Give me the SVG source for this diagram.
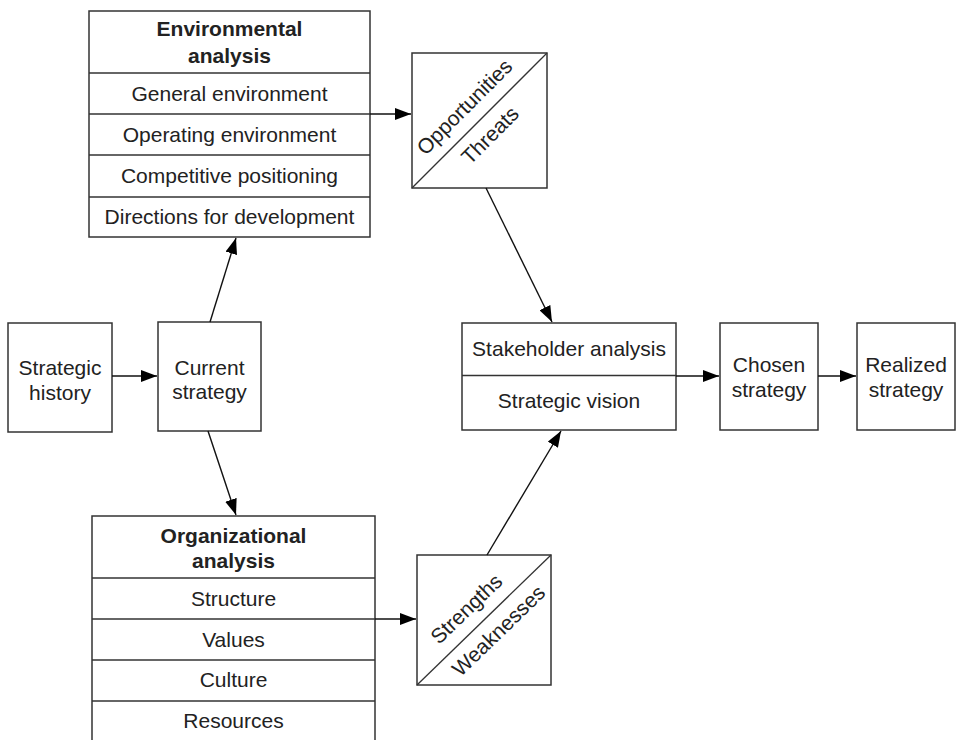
<svg xmlns="http://www.w3.org/2000/svg" width="957" height="740" viewBox="0 0 957 740">
<style>
.box{fill:#fff;stroke:#333;stroke-width:1.5}
.div{stroke:#333;stroke-width:1.5;fill:none}
.t{font-family:"Liberation Sans",Arial,Helvetica,sans-serif;font-size:21px;fill:#222;text-anchor:middle}
.b{font-weight:bold}
.c{stroke:#111;stroke-width:1.4;fill:none;marker-end:url(#ah)}
</style>
<defs>
<marker id="ah" markerUnits="userSpaceOnUse" markerWidth="17" markerHeight="12" refX="16" refY="6" orient="auto">
<path d="M0,0 L16,6 L0,12 z" fill="#000"/>
</marker>
</defs>
<rect width="957" height="740" fill="#fff"/>

<g id="environmental">
<rect class="box" x="89" y="11" width="281" height="226"/>
<line class="div" x1="89" y1="73" x2="370" y2="73"/>
<line class="div" x1="89" y1="114" x2="370" y2="114"/>
<line class="div" x1="89" y1="155" x2="370" y2="155"/>
<line class="div" x1="89" y1="197" x2="370" y2="197"/>
<text class="t b" x="229.5" y="36">Environmental</text>
<text class="t b" x="229.5" y="63">analysis</text>
<text class="t" x="229.5" y="101">General environment</text>
<text class="t" x="229.5" y="142">Operating environment</text>
<text class="t" x="229.5" y="183">Competitive positioning</text>
<text class="t" x="229.5" y="224">Directions for development</text>
</g>

<g id="opportunities-threats">
<rect class="box" x="412" y="53" width="135" height="135"/>
<line class="div" x1="412" y1="188" x2="547" y2="53" style="stroke-width:1.3"/>
<g transform="translate(479.5,120.5) rotate(-45)">
<text class="t" x="-1" y="-13">Opportunities</text>
<text class="t" x="-3" y="25">Threats</text>
</g>
</g>

<g id="strategic-history">
<rect class="box" x="8" y="323" width="104" height="109"/>
<text class="t" x="60" y="375">Strategic</text>
<text class="t" x="60" y="400">history</text>
</g>

<g id="current-strategy">
<rect class="box" x="158" y="322" width="103" height="109"/>
<text class="t" x="209.5" y="375">Current</text>
<text class="t" x="209.5" y="399">strategy</text>
</g>

<g id="stakeholder">
<rect class="box" x="462" y="323" width="214" height="107"/>
<line class="div" x1="462" y1="375.5" x2="676" y2="375.5"/>
<text class="t" x="569" y="356">Stakeholder analysis</text>
<text class="t" x="569" y="408">Strategic vision</text>
</g>

<g id="chosen-strategy">
<rect class="box" x="720" y="323" width="98" height="107"/>
<text class="t" x="769" y="372">Chosen</text>
<text class="t" x="769" y="397">strategy</text>
</g>

<g id="realized-strategy">
<rect class="box" x="857" y="323" width="98" height="107"/>
<text class="t" x="906" y="372">Realized</text>
<text class="t" x="906" y="397">strategy</text>
</g>

<g id="organizational">
<path class="div" d="M92,745 V516 H375 V745"/>
<line class="div" x1="92" y1="578" x2="375" y2="578"/>
<line class="div" x1="92" y1="619" x2="375" y2="619"/>
<line class="div" x1="92" y1="660" x2="375" y2="660"/>
<line class="div" x1="92" y1="701" x2="375" y2="701"/>
<text class="t b" x="233.5" y="543">Organizational</text>
<text class="t b" x="233.5" y="568">analysis</text>
<text class="t" x="233.5" y="606">Structure</text>
<text class="t" x="233.5" y="647">Values</text>
<text class="t" x="233.5" y="687">Culture</text>
<text class="t" x="233.5" y="728">Resources</text>
</g>

<g id="strengths-weaknesses">
<rect class="box" x="417" y="555" width="134" height="130"/>
<line class="div" x1="417" y1="685" x2="551" y2="555" style="stroke-width:1.3"/>
<g transform="translate(484,620) rotate(-44)">
<text class="t" x="-5" y="-13">Strengths</text>
<text class="t" x="3" y="25">Weaknesses</text>
</g>
</g>

<g id="connectors">
<line class="c" x1="370" y1="114" x2="411" y2="114"/>
<line class="c" x1="112" y1="376" x2="157" y2="376"/>
<line class="c" x1="210" y1="322" x2="236" y2="238"/>
<line class="c" x1="208" y1="431" x2="236" y2="515"/>
<line class="c" x1="486" y1="188" x2="552" y2="322"/>
<line class="c" x1="375" y1="619" x2="416" y2="619"/>
<line class="c" x1="487" y1="555" x2="561" y2="431"/>
<line class="c" x1="676" y1="376" x2="719" y2="376"/>
<line class="c" x1="818" y1="376" x2="856" y2="376"/>
</g>
</svg>
